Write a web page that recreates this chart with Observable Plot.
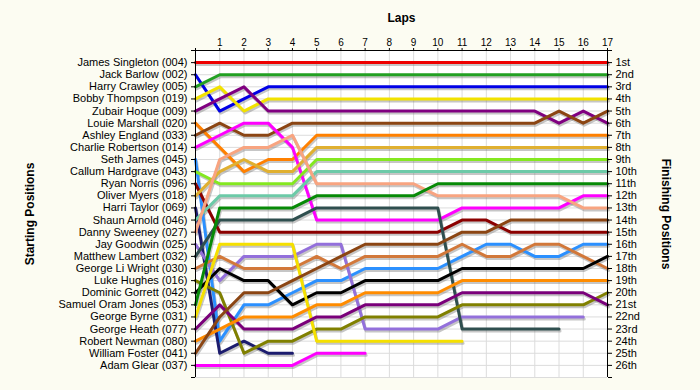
<!DOCTYPE html>
<html>
<head>
<meta charset="utf-8">
<script src="https://cdn.jsdelivr.net/npm/d3@7"></script>
<script src="https://cdn.jsdelivr.net/npm/@observablehq/plot@0.6"></script>
<style>
  html, body { margin: 0; padding: 0; background: #fcfcf2; }
  #chart svg { display: block; }
</style>
</head>
<body>
<div id="chart"></div>
<script>
// Lap numbers (0 = starting grid)
const laps = d3.range(0, 18);

// Drivers in starting order
const drivers = [
  "James Singleton (004)", "Jack Barlow (002)", "Harry Crawley (005)", "Bobby Thompson (019)",
  "Zubair Hoque (009)", "Louie Marshall (020)", "Ashley England (033)", "Charlie Robertson (014)",
  "Seth James (045)", "Callum Hardgrave (043)", "Ryan Norris (096)", "Oliver Myers (018)",
  "Harri Taylor (069)", "Shaun Arnold (046)", "Danny Sweeney (027)", "Jay Goodwin (025)",
  "Matthew Lambert (032)", "George Li Wright (030)", "Luke Hughes (016)", "Dominic Gorrett (042)",
  "Samuel Oram Jones (053)", "George Byrne (031)", "George Heath (077)", "Robert Newman (080)",
  "William Foster (041)", "Adam Glear (037)"
];

// Line colour of each driver (same order)
const lineColors = [
  "#ee0000", "#0000e6", "#22a022", "#f2e200",
  "#800080", "#ff8000", "#8b4513", "#ff00ff",
  "#2b90ff", "#84e820", "#8b0000", "#e0b030",
  "#1c1c6e", "#6ccaa8", "#f8a480", "#9370db",
  "#2f4f4f", "#d2783a", "#808000", "#000000",
  "#078a07", "#f5e000", "#7a007a", "#ff8c00",
  "#8b4513", "#ff00ff"
];

// Position of each driver at each lap (index = lap); shorter rows = retired
const positions = [
  [1,1,1,1,1,1,1,1,1,1,1,1,1,1,1,1,1,1],
  [2,5,4,3,3,3,3,3,3,3,3,3,3,3,3,3,3,3],
  [3,2,2,2,2,2,2,2,2,2,2,2,2,2,2,2,2,2],
  [4,3,5,4,4,4,4,4,4,4,4,4,4,4,4,4,4,4],
  [5,4,3,5,5,5,5,5,5,5,5,5,5,5,5,6,5,6],
  [6,8,10,9,9,7,7,7,7,7,7,7,7,7,7,7,7,7],
  [7,6,7,7,6,6,6,6,6,6,6,6,6,6,6,5,6,5],
  [8,7,6,6,8,14,14,14,14,14,14,13,13,13,13,13,12,12],
  [9,24,21,21,20,19,19,18,18,18,18,17,16,16,17,17,16,16],
  [10,11,11,11,11,9,9,9,9,9,9,9,9,9,9,9,9,9],
  [11,15,15,15,15,15,15,15,15,15,15,14,14,15,15,15,15,15],
  [12,10,9,10,10,8,8,8,8,8,8,8,8,8,8,8,8,8],
  [13,25,24,25,25],
  [14,12,12,12,12,10,10,10,10,10,10,10,10,10,10,10,10,10],
  [15,9,8,8,7,11,11,11,11,11,12,12,12,12,12,12,13,13],
  [16,19,17,17,17,16,16,23,23,23,23,22,22,22,22,22,22],
  [17,14,14,14,14,13,13,13,13,13,13,23,23,23,23,23],
  [18,17,18,18,18,17,18,17,17,17,17,16,17,17,16,16,17,18],
  [19,20,25,24,24,23,23,22,22,22,22,21,21,21,21,21,21,20],
  [20,18,19,19,21,20,20,19,19,19,19,18,18,18,18,18,18,17],
  [21,13,13,13,13,12,12,12,12,12,11,11,11,11,11,11,11,11],
  [22,16,16,16,16,24,24,24,24,24,24,24],
  [23,21,23,23,23,22,22,21,21,21,21,20,20,20,20,20,20,21],
  [24,23,22,22,22,21,21,20,20,20,20,19,19,19,19,19,19,19],
  [25,22,20,20,19,18,17,16,16,16,16,15,15,14,14,14,14,14],
  [26,26,26,26,26,25,25,25]
];

// Finishing position labels
const finishLabels = [
  "1st","2nd","3rd","4th","5th","6th","7th","8th","9th","10th","11th","12th","13th",
  "14th","15th","16th","17th","18th","19th","20th","21st","22nd","23rd","24th","25th","26th"
];

const slots = d3.range(0, 28);

const rows = drivers.flatMap((name, i) =>
  positions[i].map((p, lap) => ({name, lap, pos: p, color: lineColors[i]}))
);

const chart = Plot.plot({
  width: 700,
  height: 390,
  marginLeft: 195,
  marginRight: 93,
  marginTop: 50,
  marginBottom: 13,
  x: {domain: [0, 17]},
  y: {domain: [0, 27], reverse: true},
  color: {type: "identity"},
  style: {background: "transparent", fontFamily: "'Liberation Sans', Arial, sans-serif", fontSize: "11px", color: "black"},
  marks: [
    Plot.frame({fill: "white", stroke: "none"}),
    Plot.gridX({ticks: laps, stroke: "#dcdcdc", strokeOpacity: 1}),
    Plot.gridY({ticks: slots, stroke: "#dcdcdc", strokeOpacity: 1}),
    Plot.line(rows, {x: "lap", y: "pos", z: "name", stroke: "#707070", strokeOpacity: 0.4, strokeWidth: 3, dx: 1, dy: 2}),
    Plot.line(rows, {x: "lap", y: "pos", z: "name", stroke: "color", strokeWidth: 3}),
    Plot.ruleY([0], {stroke: "black"}),
    Plot.ruleX([0, 17], {stroke: "black"}),
    Plot.axisX({anchor: "top", ticks: laps, tickFormat: d => d === 0 ? "" : d, tickSize: 3, tickPadding: 2, fontSize: 10, label: null}),
    Plot.axisY({anchor: "left", ticks: slots, tickFormat: d => drivers[d - 1] ?? "", tickSize: 4, tickPadding: 4, fontSize: 11, label: null}),
    Plot.axisY({anchor: "right", ticks: slots, tickFormat: d => finishLabels[d - 1] ?? "", tickSize: 4, tickPadding: 4, fontSize: 11, label: null}),
    Plot.text(["Laps"], {text: d => d, frameAnchor: "top", textAnchor: "middle", lineAnchor: "middle", dy: -32, fontWeight: "bold", fontSize: 12}),
    Plot.text(["Starting Positions"], {text: d => d, frameAnchor: "left", textAnchor: "middle", lineAnchor: "middle", rotate: -90, dx: -165, fontWeight: "bold", fontSize: 12}),
    Plot.text(["Finishing Positions"], {text: d => d, frameAnchor: "right", textAnchor: "middle", lineAnchor: "middle", rotate: 90, dx: 58, fontWeight: "bold", fontSize: 12})
  ]
});

document.getElementById("chart").appendChild(chart);
</script>
</body>
</html>
